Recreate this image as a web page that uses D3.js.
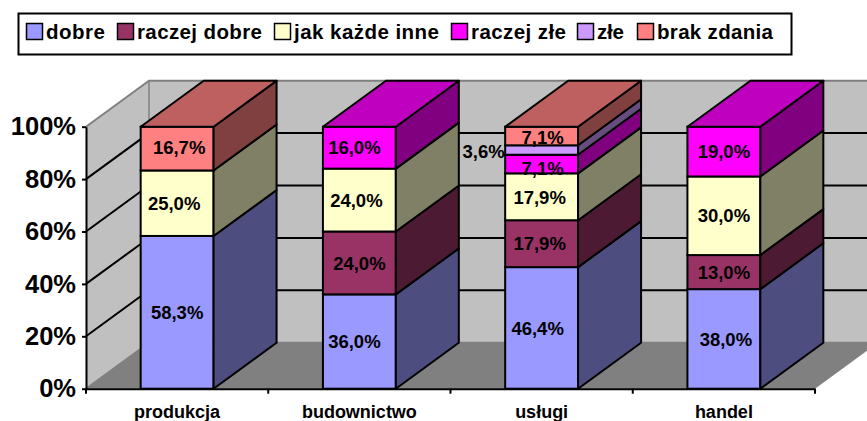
<!DOCTYPE html>
<html>
  <head>
    <meta charset="utf-8">
    <title>Ocena</title>
    <script src="https://d3js.org/d3.v7.min.js"></script>
    <style>
      html, body { margin: 0; background: #fff; overflow: hidden; }
      svg { display: block; font-family: "Liberation Sans", Arial, sans-serif; font-weight: bold; }
    </style>
  </head>
  <body>
    <div id="chart"></div>
    <script>
      const categories = ["produkcja", "budownictwo", "usługi", "handel"];
      const seriesNames = ["dobre", "raczej dobre", "jak każde inne", "raczej złe", "złe", "brak zdania"];
      const dobre = [58.3, 36.0, 46.4, 38.0];
      const raczejDobre = [0, 24.0, 17.9, 13.0];
      const jakKazdeInne = [25.0, 24.0, 17.9, 30.0];
      const raczejZle = [0, 16.0, 7.1, 19.0];
      const zle = [0, 0, 3.6, 0];
      const brakZdania = [16.7, 0, 7.1, 0];
      const seriesValues = [dobre, raczejDobre, jakKazdeInne, raczejZle, zle, brakZdania];
      const yTicks = [0, 20, 40, 60, 80, 100];

      const colors = ["#9999ff", "#993366", "#ffffcc", "#ff00ff", "#cc99ff", "#ff8080"];
      const sideColors = ["#4d4d80", "#4d1a33", "#808066", "#800080", "#664d80", "#804040"];
      const topColors = ["#7373bf", "#73264d", "#bfbf99", "#bf00bf", "#9973bf", "#bf6060"];

      // plot area, the depth is the shift of the back wall
      const plotLeft = 86, plotRight = 815, plotBottom = 388.7, plotTop = 126.7;
      const depthX = 63, depthY = 46;

      const svg = d3.select("#chart").append("svg")
        .attr("width", 867)
        .attr("height", 421);

      const x = d3.scaleBand()
        .domain(categories)
        .range([plotLeft, plotRight])
        .paddingInner(0.6)
        .paddingOuter(0.3);

      const y = d3.scaleLinear()
        .domain([0, 100])
        .range([plotBottom, plotTop]);

      const poly = pts => pts.map(p => p.join(",")).join(" ");

      // walls and floor
      svg.append("polygon")
        .attr("points", poly([[plotLeft, y(0)], [plotLeft, y(100)], [plotLeft + depthX, y(100) - depthY], [plotLeft + depthX, y(0) - depthY]]))
        .attr("fill", "#c0c0c0");
      svg.append("polygon")
        .attr("points", poly([[plotLeft + depthX, y(100) - depthY], [plotRight + depthX, y(100) - depthY], [plotRight + depthX, y(0) - depthY], [plotLeft + depthX, y(0) - depthY]]))
        .attr("fill", "#c0c0c0");
      svg.append("polygon")
        .attr("points", poly([[plotLeft, y(0)], [plotRight, y(0)], [plotRight + depthX, y(0) - depthY], [plotLeft + depthX, y(0) - depthY]]))
        .attr("fill", "#808080");

      // grid lines run over the left wall and along the back wall
      yTicks.forEach(t => {
        const edge = t === 0 || t === 100;
        svg.append("polyline")
          .attr("points", poly([[plotLeft, y(t)], [plotLeft + depthX, y(t) - depthY], [plotRight + depthX, y(t) - depthY]]))
          .attr("fill", "none")
          .attr("stroke", edge ? "#808080" : "#000")
          .attr("stroke-width", 2);
      });
      svg.append("line")
        .attr("x1", plotLeft + depthX).attr("x2", plotLeft + depthX)
        .attr("y1", y(100) - depthY).attr("y2", y(0) - depthY)
        .attr("stroke", "#808080")
        .attr("stroke-width", 1.5);

      // stacks, from the bottom up
      const labels = [];
      categories.forEach((c, i) => {
        const x0 = x(c), x1 = x0 + x.bandwidth();
        let sum = 0, last = -1;
        seriesValues.forEach((vals, s) => {
          if (vals[i] === 0) return;
          const y0 = y(sum), y1 = y(sum + vals[i]);
          svg.append("rect")
            .attr("x", x0).attr("y", y1)
            .attr("width", x1 - x0).attr("height", y0 - y1)
            .attr("fill", colors[s])
            .attr("stroke", "#000").attr("stroke-width", 2);
          svg.append("polygon")
            .attr("points", poly([[x1, y0], [x1, y1], [x1 + depthX, y1 - depthY], [x1 + depthX, y0 - depthY]]))
            .attr("fill", sideColors[s])
            .attr("stroke", "#000").attr("stroke-width", 2)
            .attr("stroke-linejoin", "round");
          labels.push({ c, s, v: vals[i], mid: sum + vals[i] / 2 });
          sum += vals[i];
          last = s;
        });
        svg.append("polygon")
          .attr("points", poly([[x0, y(sum)], [x1, y(sum)], [x1 + depthX, y(sum) - depthY], [x0 + depthX, y(sum) - depthY]]))
          .attr("fill", topColors[last])
          .attr("stroke", "#000").attr("stroke-width", 2)
          .attr("stroke-linejoin", "round");
      });

      // hand moved labels, as in the original: "category|series" -> [dx, dy]
      const nudges = {
        "produkcja|5": [2, -1],
        "produkcja|2": [-3, 0],
        "budownictwo|3": [-5, 0],
        "budownictwo|2": [-3, 0],
        "budownictwo|0": [-5, 0],
        "usługi|5": [1, 1],
        "usługi|4": [-58, 1],
        "usługi|3": [1, 4],
        "usługi|2": [-2, 1],
        "usługi|1": [-2, 0],
        "usługi|0": [-4, 0],
        "handel|0": [2, 0]
      };

      svg.selectAll("text.value")
        .data(labels)
        .join("text")
          .attr("class", "value")
          .attr("x", d => x(d.c) + x.bandwidth() / 2 + (nudges[d.c + "|" + d.s] || [0, 0])[0])
          .attr("y", d => y(d.mid) + (nudges[d.c + "|" + d.s] || [0, 0])[1])
          .attr("dy", "0.36em")
          .attr("text-anchor", "middle")
          .attr("font-size", 18.5)
          .attr("fill", "#000")
          .text(d => d.v.toFixed(1).replace(".", ",") + "%");

      // axes
      const yAxis = svg.append("g")
        .attr("transform", `translate(${plotLeft},0)`)
        .call(d3.axisLeft(y).tickValues(yTicks).tickFormat(d => d + "%").tickSize(4).tickSizeOuter(0));
      yAxis.select(".domain").attr("stroke-width", 2);
      yAxis.selectAll("line").attr("stroke-width", 2);
      yAxis.selectAll("text")
        .attr("font-size", 25.5)
        .attr("font-family", "Liberation Sans")
        .attr("font-weight", "bold")
        .attr("x", -10);

      const xAxis = svg.append("g")
        .attr("transform", `translate(0,${plotBottom})`)
        .call(d3.axisBottom(x).tickSize(0).tickPadding(17));
      xAxis.select(".domain").attr("stroke-width", 2);
      xAxis.selectAll("text")
        .attr("font-size", 18)
        .attr("font-family", "Liberation Sans")
        .attr("font-weight", "bold");

      // category ticks sit between the bars
      const edgeTicks = d3.range(categories.length + 1).map(i => plotLeft + (plotRight - plotLeft) * i / categories.length);
      xAxis.selectAll("line.edge")
        .data(edgeTicks)
        .join("line")
          .attr("class", "edge")
          .attr("x1", d => d).attr("x2", d => d)
          .attr("y1", 0).attr("y2", 5)
          .attr("stroke", "#000").attr("stroke-width", 2);

      // legend
      const legendX = [26, 117, 274, 451, 577, 637];
      const legendWidth = [59, 125, 145, 95, 27, 116];
      svg.append("rect")
        .attr("x", 18.5).attr("y", 13.5)
        .attr("width", 773).attr("height", 41)
        .attr("fill", "#fff")
        .attr("stroke", "#000").attr("stroke-width", 2);
      const legend = svg.selectAll("g.legend")
        .data(seriesNames)
        .join("g")
          .attr("class", "legend")
          .attr("transform", (d, i) => `translate(${legendX[i]},0)`);
      legend.append("rect")
        .attr("x", 0.5).attr("y", 23.5)
        .attr("width", 16).attr("height", 16)
        .attr("fill", (d, i) => colors[i])
        .attr("stroke", "#000").attr("stroke-width", 1.5);
      legend.append("text")
        .attr("x", 20).attr("y", 38.5)
        .attr("font-size", 20.5)
        .attr("textLength", (d, i) => legendWidth[i])
        .text(d => d);
    </script>
  </body>
</html>
